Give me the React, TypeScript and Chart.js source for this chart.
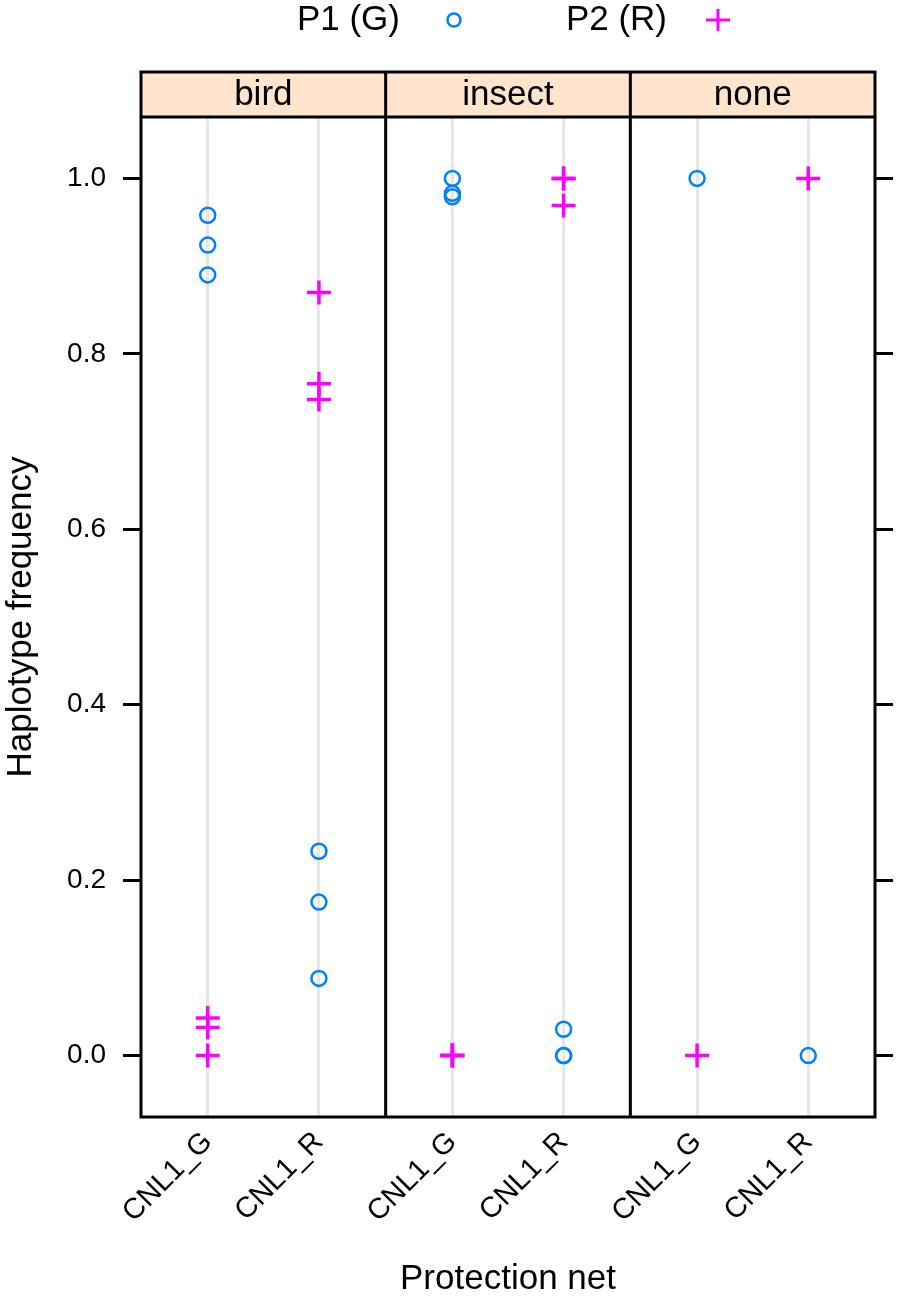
import React, { useEffect, useRef } from "react";
import { Chart, registerables } from "chart.js";

Chart.register(...registerables);

// ---- data -------------------------------------------------------------
const panels = ["bird", "insect", "none"];
const haplotypes = ["CNL1_G", "CNL1_R"];
const seriesNames = ["P1 (G)", "P2 (R)"];
const seriesColors = ["#0080ff", "#ff00ff"];

// each panel array: [values at CNL1_G, values at CNL1_R]
const p1Bird = [[0.958, 0.924, 0.89], [0.233, 0.175, 0.088]];
const p1Insect = [[1.0, 0.983, 0.979], [0.03, 0.0, 0.0]];
const p1None = [[1.0], [0.0]];
const p2Bird = [[0.043, 0.032, 0.0], [0.87, 0.766, 0.748]];
const p2Insect = [[0.0, 0.0, 0.0], [1.0, 1.0, 0.969]];
const p2None = [[0.0], [1.0]];

const yTicks = [0, 0.2, 0.4, 0.6, 0.8, 1.0];
const yMin = -0.07;
const yMax = 1.07;

// ---- layout helpers ----------------------------------------------------
const PANEL_SPAN = haplotypes.length + 0.2;
const CAT_OFFSET = 0.6;
const catPos = (p: number, c: number) => p * PANEL_SPAN + CAT_OFFSET + c;

const FONT = "'Liberation Sans', Arial, Helvetica, sans-serif";

function buildPoints(series: number[][][]) {
  const pts: { x: number; y: number }[] = [];
  series.forEach((panel, p) => {
    panel.forEach((vals, c) => {
      vals.forEach((v) => pts.push({ x: catPos(p, c), y: v }));
    });
  });
  return pts;
}

const latticePlugin = {
  id: "latticeFrame",
  afterDatasetsDraw(chart: any) {
    const { ctx, chartArea: a, scales } = chart;
    const xs = scales.x;
    const stripTop = a.top - 45;
    ctx.save();
    // strips
    ctx.fillStyle = "#ffe5cc";
    ctx.fillRect(a.left, stripTop, a.right - a.left, a.top - stripTop);
    ctx.strokeStyle = "#000";
    ctx.lineWidth = 3;
    ctx.strokeRect(a.left, stripTop, a.right - a.left, a.bottom - stripTop);
    ctx.beginPath();
    ctx.moveTo(a.left, a.top);
    ctx.lineTo(a.right, a.top);
    for (let p = 1; p < panels.length; p++) {
      const px = xs.getPixelForValue(p * PANEL_SPAN);
      ctx.moveTo(px, stripTop);
      ctx.lineTo(px, a.bottom);
    }
    ctx.stroke();
    ctx.fillStyle = "#000";
    ctx.font = `35px ${FONT}`;
    ctx.textAlign = "center";
    ctx.textBaseline = "middle";
    panels.forEach((name, p) => {
      const cx = xs.getPixelForValue(p * PANEL_SPAN + PANEL_SPAN / 2);
      ctx.fillText(name, cx, (stripTop + a.top) / 2 + 1);
    });

    // legend (text then symbol, as in lattice key)
    const mid = (a.left + a.right) / 2;
    const ly = 20;
    ctx.textAlign = "right";
    ctx.fillText(seriesNames[0], mid - 108, ly);
    ctx.fillText(seriesNames[1], mid + 159, ly);
    ctx.strokeStyle = seriesColors[0];
    ctx.lineWidth = 2.5;
    ctx.beginPath();
    ctx.arc(mid - 54, ly, 6.5, 0, Math.PI * 2);
    ctx.stroke();
    ctx.strokeStyle = seriesColors[1];
    ctx.lineWidth = 3;
    ctx.beginPath();
    ctx.moveTo(mid + 210 - 12, ly);
    ctx.lineTo(mid + 210 + 12, ly);
    ctx.moveTo(mid + 210, ly - 11);
    ctx.lineTo(mid + 210, ly + 11);
    ctx.stroke();
    ctx.restore();
  },
};

export default function App() {
  const ref = useRef<HTMLCanvasElement | null>(null);

  useEffect(() => {
    if (!ref.current) return;
    const tickVals = panels.flatMap((_, p) => haplotypes.map((_, c) => catPos(p, c)));
    const chart = new Chart(ref.current, {
      type: "scatter",
      data: {
        datasets: [
          {
            label: seriesNames[0],
            data: buildPoints([p1Bird, p1Insect, p1None]),
            pointStyle: "circle",
            pointRadius: 7.5,
            pointHoverRadius: 7.5,
            borderWidth: 2.5,
            borderColor: seriesColors[0],
            backgroundColor: "rgba(0,0,0,0)",
          },
          {
            label: seriesNames[1],
            data: buildPoints([p2Bird, p2Insect, p2None]),
            pointStyle: "cross",
            pointRadius: 12,
            pointHoverRadius: 12,
            borderWidth: 3.5,
            borderColor: seriesColors[1],
            backgroundColor: seriesColors[1],
          },
        ],
      },
      options: {
        animation: false,
        responsive: false,
        maintainAspectRatio: false,
        layout: { padding: { top: 117, left: 0, right: 0, bottom: 0 } },
        plugins: { legend: { display: false }, tooltip: { enabled: false } },
        scales: {
          x: {
            type: "linear",
            min: 0,
            max: PANEL_SPAN * panels.length,
            afterBuildTicks: (s: any) => {
              s.ticks = tickVals.map((v) => ({ value: v }));
            },
            afterFit: (s: any) => {
              s.height = 1300 - 1117;
            },
            ticks: {
              autoSkip: false,
              minRotation: 45,
              maxRotation: 45,
              padding: 8,
              color: "#000",
              font: { family: FONT, size: 29 },
              callback: (_v: any, i: number) => haplotypes[i % haplotypes.length],
            },
            grid: {
              drawOnChartArea: true,
              drawTicks: false,
              color: "#e6e6e6",
              lineWidth: 3,
            },
            border: { display: false },
            title: {
              display: true,
              text: "Protection net",
              color: "#000",
              font: { family: FONT, size: 35 },
              padding: { top: 0, bottom: 0 },
            },
          },
          y: {
            type: "linear",
            position: "left",
            min: yMin,
            max: yMax,
            afterBuildTicks: (s: any) => {
              s.ticks = yTicks.map((v) => ({ value: v }));
            },
            afterFit: (s: any) => {
              s.width = 141;
            },
            ticks: {
              padding: 17,
              color: "#000",
              font: { family: FONT, size: 28 },
              callback: (v: any) => Number(v).toFixed(1),
            },
            grid: {
              drawOnChartArea: false,
              drawTicks: true,
              tickLength: 18,
              color: "#000",
              lineWidth: 3,
            },
            border: { display: false },
            title: {
              display: true,
              text: "Haplotype frequency",
              color: "#000",
              font: { family: FONT, size: 35 },
              padding: { top: 0, bottom: 0 },
            },
          },
          y2: {
            type: "linear",
            position: "right",
            min: yMin,
            max: yMax,
            afterBuildTicks: (s: any) => {
              s.ticks = yTicks.map((v) => ({ value: v }));
            },
            afterFit: (s: any) => {
              s.width = 898 - 875;
            },
            ticks: { display: false },
            grid: {
              drawOnChartArea: false,
              drawTicks: true,
              tickLength: 18,
              color: "#000",
              lineWidth: 3,
            },
            border: { display: false },
          },
        },
      },
      plugins: [latticePlugin],
    } as any);
    return () => chart.destroy();
  }, []);

  return (
    <div style={{ position: "absolute", left: 0, top: 0, width: 898, height: 1300, background: "#fff" }}>
      <canvas ref={ref} width={898} height={1300} style={{ width: 898, height: 1300, display: "block" }} />
    </div>
  );
}
